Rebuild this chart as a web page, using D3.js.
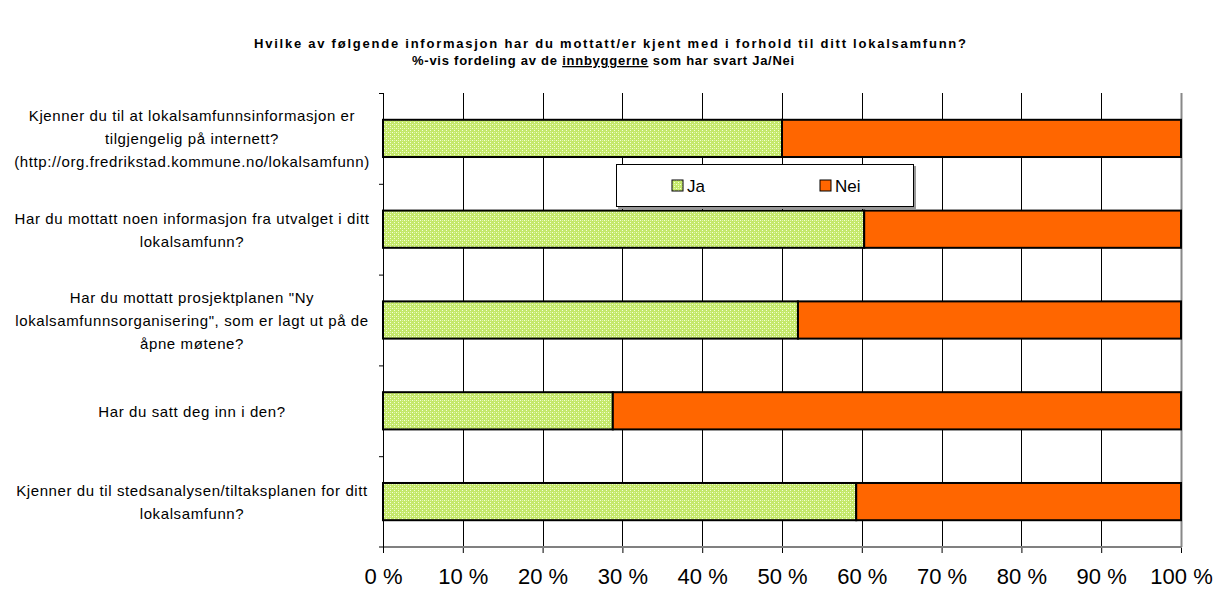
<!DOCTYPE html>
<meta charset="utf-8">
<style>
    body {
        margin: 0;
        font-family: "Liberation Sans", Arial, sans-serif;
        background: #fff;
    }
    svg { display: block; }
    .title { font-size: 13px; font-weight: bold; }
    .cat { font-size: 15px; fill: #000; letter-spacing: 0.6px; }
</style>
<body>
<script src="https://d3js.org/d3.v7.min.js"></script>
<script>

    var categories = [
        ["Kjenner du til at lokalsamfunnsinformasjon er", "tilgjengelig på internett?", "(http://org.fredrikstad.kommune.no/lokalsamfunn)"],
        ["Har du mottatt noen informasjon fra utvalget i ditt", "lokalsamfunn?"],
        ["Har du mottatt prosjektplanen \"Ny", "lokalsamfunnsorganisering\", som er lagt ut på de", "åpne møtene?"],
        ["Har du satt deg inn i den?"],
        ["Kjenner du til stedsanalysen/tiltaksplanen for ditt", "lokalsamfunn?"]
    ];
    var ja = [50.0, 60.3, 52.0, 28.8, 59.3];
    var nei = [50.0, 39.7, 48.0, 71.2, 40.7];
    var seriesNames = ["Ja", "Nei"];
    var ticks = [0, 10, 20, 30, 40, 50, 60, 70, 80, 90, 100];

    var W = 1220, H = 592;
    var plotL = 383, plotR = 1181, plotT = 93, plotB = 547;

    var svg = d3.select("body").append("svg")
        .attr("width", W)
        .attr("height", H);

    var defs = svg.append("defs");
    var pat = defs.append("pattern")
        .attr("id", "greenDots")
        .attr("patternUnits", "userSpaceOnUse")
        .attr("width", 4).attr("height", 4);
    pat.append("rect").attr("width", 4).attr("height", 4).attr("fill", "#c4e86a");
    pat.append("rect").attr("x", 0).attr("y", 0).attr("width", 1).attr("height", 1).attr("fill", "#f4ffd8");
    pat.append("rect").attr("x", 2).attr("y", 2).attr("width", 1).attr("height", 1).attr("fill", "#f4ffd8");
    pat.append("rect").attr("x", 2).attr("y", 0).attr("width", 1).attr("height", 1).attr("fill", "#e2f5a8");

    var x = d3.scaleLinear().domain([0, 100]).range([plotL, plotR]);
    var y = d3.scaleBand().domain(d3.range(categories.length)).range([plotT, plotB]).paddingInner(0.59).paddingOuter(0.295);
    var band = d3.scaleBand().domain(d3.range(categories.length)).range([plotT, plotB]);

    // title
    svg.append("text").attr("class", "title")
        .attr("x", 254).attr("y", 48)
        .attr("textLength", 712).attr("lengthAdjust", "spacing")
        .text("Hvilke av følgende informasjon har du mottatt/er kjent med i forhold til ditt lokalsamfunn?");
    var t2 = svg.append("text").attr("class", "title")
        .attr("x", 412).attr("y", 65)
        .attr("letter-spacing", "0.75px");
    t2.append("tspan").text("%-vis fordeling av de ");
    t2.append("tspan").attr("text-decoration", "underline").text("innbyggerne");
    t2.append("tspan").text(" som har svart Ja/Nei");

    // gridlines
    svg.append("g").selectAll("line")
        .data(ticks.slice(1, -1))
        .join("line")
        .attr("x1", function (d) { return Math.round(x(d)) + 0.5; })
        .attr("x2", function (d) { return Math.round(x(d)) + 0.5; })
        .attr("y1", plotT).attr("y2", plotB)
        .attr("stroke", "#000").attr("stroke-width", 1);

    // right border
    svg.append("line")
        .attr("x1", plotR + 0.5).attr("x2", plotR + 0.5)
        .attr("y1", plotT).attr("y2", plotB)
        .attr("stroke", "#888").attr("stroke-width", 2);

    // x axis
    var xAxis = svg.append("g")
        .attr("transform", "translate(0," + plotB + ")")
        .call(d3.axisBottom(x).tickValues(ticks).tickSize(6).tickPadding(15)
            .tickFormat(function (d) { return d + " %"; }));
    xAxis.select(".domain").remove();
    xAxis.selectAll(".tick line").attr("stroke", "#000");
    xAxis.selectAll(".tick text")
        .attr("font-family", "Liberation Sans, Arial, sans-serif")
        .attr("font-size", 22)
        .attr("fill", "#000");
    svg.append("line")
        .attr("x1", plotL - 4).attr("x2", plotR + 1)
        .attr("y1", plotB).attr("y2", plotB)
        .attr("stroke", "#808080").attr("stroke-width", 2);

    // y axis
    svg.append("line")
        .attr("x1", plotL + 0.5).attr("x2", plotL + 0.5)
        .attr("y1", plotT).attr("y2", plotB + 6)
        .attr("stroke", "#000").attr("stroke-width", 1);
    svg.append("g").selectAll("line")
        .data(d3.range(categories.length))
        .join("line")
        .attr("x1", plotL - 4).attr("x2", plotL)
        .attr("y1", function (d) { return band(d) + 0.5; })
        .attr("y2", function (d) { return band(d) + 0.5; })
        .attr("stroke", "#000");

    // bars
    var bars = svg.append("g");
    bars.selectAll("rect.ja")
        .data(ja)
        .join("rect")
        .attr("class", "ja")
        .attr("x", x(0))
        .attr("y", function (d, i) { return y(i); })
        .attr("width", function (d) { return x(d) - x(0); })
        .attr("height", y.bandwidth())
        .attr("fill", "url(#greenDots)")
        .attr("stroke", "#000").attr("stroke-width", 2);
    bars.selectAll("rect.nei")
        .data(nei)
        .join("rect")
        .attr("class", "nei")
        .attr("x", function (d, i) { return x(ja[i]); })
        .attr("y", function (d, i) { return y(i); })
        .attr("width", function (d, i) { return x(ja[i] + d) - x(ja[i]); })
        .attr("height", y.bandwidth())
        .attr("fill", "#ff6600")
        .attr("stroke", "#000").attr("stroke-width", 2);

    // category labels
    var lineH = 23;
    svg.append("g").selectAll("text")
        .data(categories)
        .join("text")
        .attr("class", "cat")
        .attr("text-anchor", "middle")
        .each(function (lines, i) {
            var cy = band(i) + band.bandwidth() / 2;
            var y0 = cy - (lines.length - 1) * lineH / 2 + 6;
            d3.select(this).selectAll("tspan")
                .data(lines)
                .join("tspan")
                .attr("x", 192)
                .attr("y", function (d, k) { return y0 + k * lineH; })
                .text(function (d) { return d; });
        });

    // legend
    var lg = svg.append("g").attr("transform", "translate(616,164)");
    lg.append("rect").attr("x", 2).attr("y", 2).attr("width", 298).attr("height", 43).attr("fill", "#999");
    lg.append("rect").attr("x", 0.5).attr("y", 0.5).attr("width", 297).attr("height", 42)
        .attr("fill", "#fff").attr("stroke", "#000");
    var items = lg.selectAll("g.item")
        .data(seriesNames)
        .join("g")
        .attr("class", "item")
        .attr("transform", function (d, i) { return "translate(" + (56 + i * 148) + ",16)"; });
    items.append("rect")
        .attr("width", 11).attr("height", 11)
        .attr("fill", function (d, i) { return i === 0 ? "url(#greenDots)" : "#ff6600"; })
        .attr("stroke", "#000");
    items.append("text")
        .attr("x", 15).attr("y", 12)
        .attr("font-size", 17)
        .text(function (d) { return d; });

</script>
</body>
